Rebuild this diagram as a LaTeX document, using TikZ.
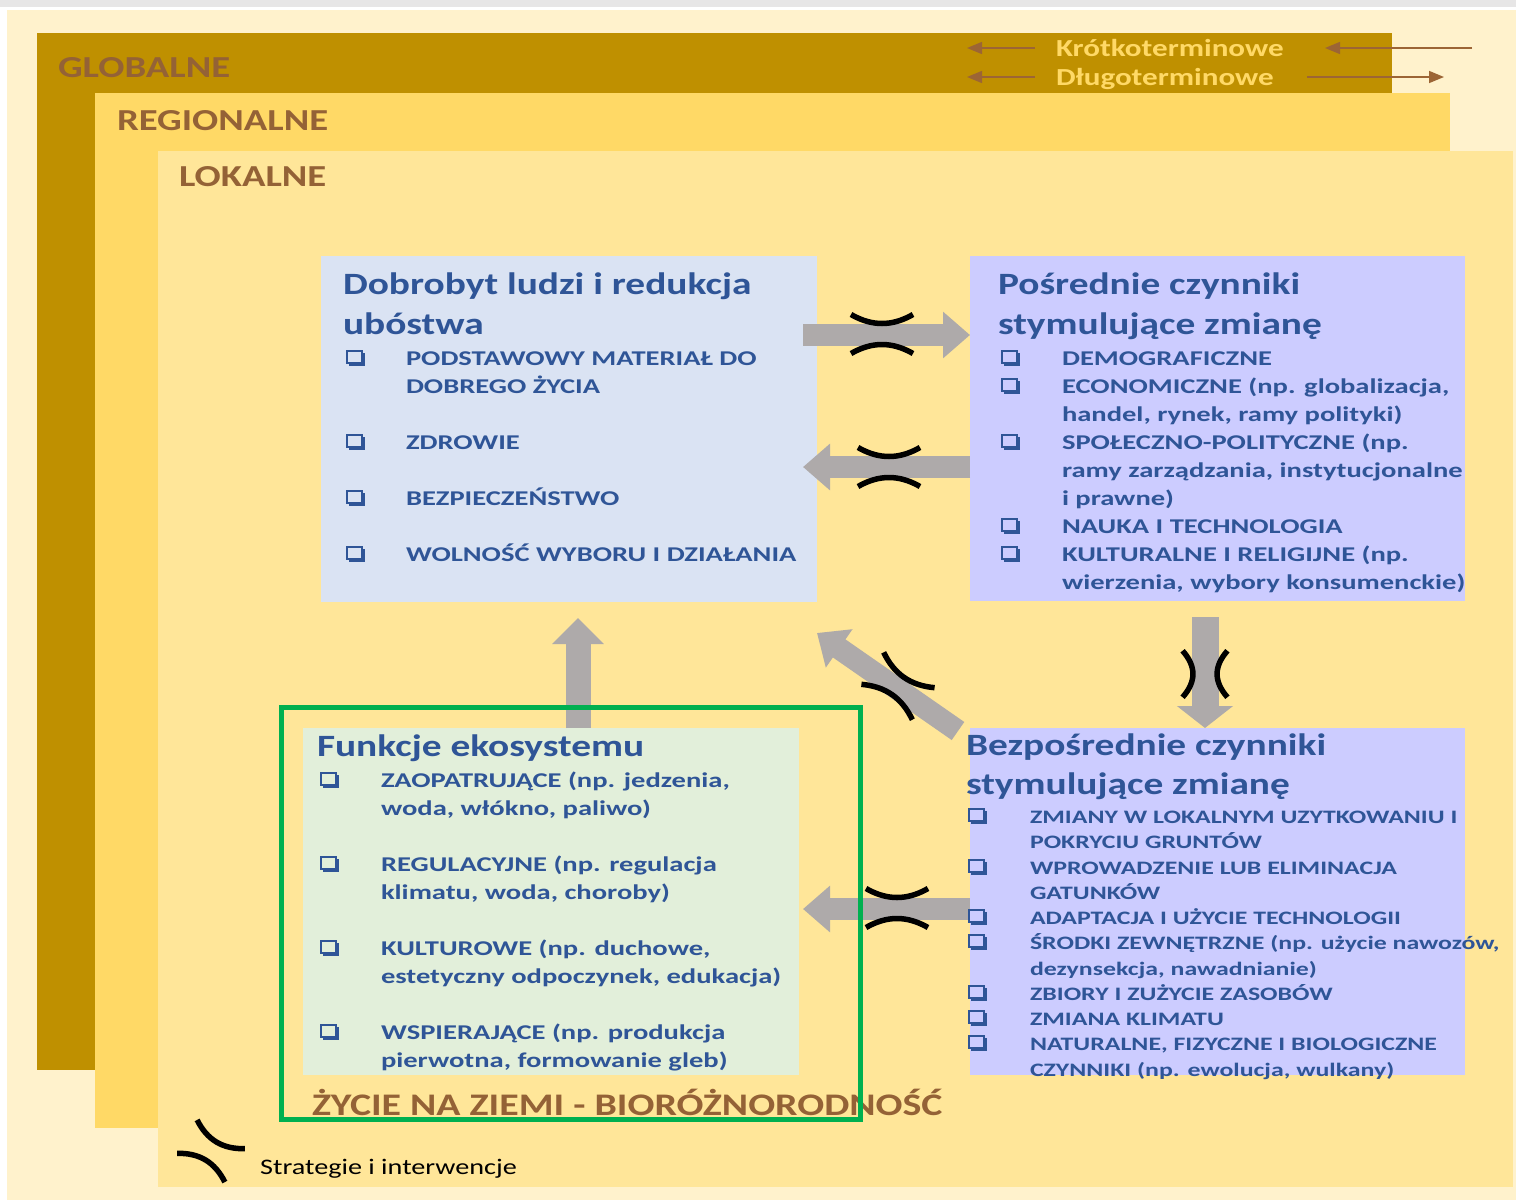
\documentclass[tikz,border=0pt]{standalone}
\usepackage{fontspec}
\setmainfont{Carlito}
\newfontfamily\fhead{Carlito}[FakeStretch=1.27]
\newfontfamily\fitem{Carlito}[FakeStretch=1.36]
\usetikzlibrary{arrows.meta}
\definecolor{cream}{HTML}{FFF2CC}
\definecolor{topgray}{HTML}{E7E6E6}
\definecolor{glob}{HTML}{BF9000}
\definecolor{regio}{HTML}{FFD966}
\definecolor{lokal}{HTML}{FFE699}
\definecolor{lvltxt}{HTML}{946236}
\definecolor{toptxt}{HTML}{FFD966}
\definecolor{toparrow}{HTML}{9C6535}
\definecolor{boxblue}{HTML}{2F5597}
\definecolor{bonecol}{HTML}{DAE3F3}
\definecolor{btwocol}{HTML}{CCCCFF}
\definecolor{bfourcol}{HTML}{E2EFDA}
\definecolor{gframe}{HTML}{00B050}
\definecolor{garrow}{HTML}{AEAAAA}
\newcommand\mytl[4]{\node[#1] (#2) at (#3) {#4};}
\begin{document}
\begin{tikzpicture}[x=1pt,y=-1pt,
 lvl/.style={anchor=base west,inner sep=0pt,outer sep=0pt,text=lvltxt,font=\fhead\bfseries\fontsize{30.5}{30.5}\selectfont},
 toplbl/.style={anchor=base west,inner sep=0pt,outer sep=0pt,text=toptxt,font=\fhead\bfseries\fontsize{24.5}{24.5}\selectfont},
 topar/.style={draw=toparrow,line width=1.5pt,-{Triangle[length=15pt,width=12pt]}},
 panel/.style={anchor=north west,inner sep=0pt,outer sep=0pt,draw=none},
 ttl/.style={anchor=base west,inner sep=0pt,outer sep=0pt,text=boxblue,font=\fhead\bfseries\fontsize{31}{31}\selectfont},
 itm/.style={anchor=base west,inner sep=0pt,outer sep=0pt,text=boxblue,font=\fitem\bfseries\fontsize{21}{21}\selectfont},
 itmb/.style={itm,font=\fitem\bfseries\fontsize{19}{19}\selectfont},
 bigarrow/.style={draw=garrow,line width=22pt,-{Triangle[length=27pt,width=45pt]}},
 chk/.pic={
   \draw[boxblue,line width=1.8pt] (0.9,0.9) rectangle (16,13);
   \fill[boxblue] (2.5,13) rectangle (19,16);
   \fill[boxblue] (16,2.5) rectangle (19,16);
 },
 strat/.pic={
   \draw[black,line width=5.5pt] (-31,-19.5) .. controls (-10,-7.5) and (10,-7.5) .. (31,-19.5);
   \draw[black,line width=5.5pt] (-31,19.5) .. controls (-10,7.5) and (10,7.5) .. (31,19.5);
 }
]
\useasboundingbox (0,0) rectangle (1516,1202);
\fill[white] (0,0) rectangle (1516,1202);
\fill[topgray] (0,0) rectangle (1516,7);
\fill[cream] (7,10) rectangle (1516,1200);
\fill[glob] (37,33) rectangle (1392,1070);
\fill[regio] (95,93) rectangle (1450,1128);
\fill[lokal] (158,151) rectangle (1513,1187);

% level labels
\mytl{lvl}{lglob}{58,77}{GLOBALNE}
\mytl{lvl}{lregio}{117,130}{REGIONALNE}
\mytl{lvl}{llok}{179,186}{LOKALNE}

% time labels
\mytl{toplbl}{kr}{1056,56}{Krótkoterminowe}
\mytl{toplbl}{dl}{1056,85}{Długoterminowe}
\coordinate (kra) at (1035,48); \coordinate (krb) at (967,48);
\coordinate (kr2a) at (1472,48); \coordinate (kr2b) at (1325,48);
\coordinate (dla) at (1035,77); \coordinate (dlb) at (967,77);
\coordinate (dl2a) at (1307,77); \coordinate (dl2b) at (1444,77);
\draw[topar] (kra) -- (krb);
\draw[topar] (kr2a) -- (kr2b);
\draw[topar] (dla) -- (dlb);
\draw[topar] (dl2a) -- (dl2b);

% boxes
\node[panel,fill=bonecol,minimum width=496pt,minimum height=346pt] (b1) at (321,256) {};
\node[panel,fill=btwocol,minimum width=495pt,minimum height=345pt] (b2) at (970,256) {};
\node[panel,fill=btwocol,minimum width=495pt,minimum height=347pt] (b3) at (970,728) {};
\node[panel,fill=bfourcol,minimum width=496pt,minimum height=347pt] (b4) at (303,728) {};

% big arrows
\coordinate (aone) at (803,335);
\draw[bigarrow] (aone) -- (aone -| b2.west);
\coordinate (atwo) at (803,467);
\draw[bigarrow] (atwo -| b2.west) -- (atwo);
\coordinate (athree) at (578,618);
\draw[bigarrow,line width=25pt,-{Triangle[length=26pt,width=50pt]}] (athree |- b4.north) -- (athree);
\coordinate (afours) at (958,731); \coordinate (afoure) at (817,633);
\draw[bigarrow] (afours) -- (afoure);
\coordinate (afive) at (1205,617);
\draw[bigarrow,line width=27pt,-{Triangle[length=22pt,width=55pt]}] (afive) -- (afive |- b3.north);
\coordinate (asix) at (803,909);
\draw[bigarrow] (asix -| b3.west) -- (asix);

% box 1
\mytl{ttl}{t1a}{343,294}{Dobrobyt ludzi i redukcja}
\mytl{ttl}{t1b}{343,334}{ubóstwa}
\pic at (346,350) {chk};
\mytl{itm}{i1a}{406,365}{PODSTAWOWY MATERIAŁ DO}
\mytl{itm}{i1b}{406,393}{DOBREGO ŻYCIA}
\pic at (346,434) {chk};
\mytl{itm}{i1c}{406,449}{ZDROWIE}
\pic at (346,490) {chk};
\mytl{itm}{i1d}{406,505}{BEZPIECZEŃSTWO}
\pic at (346,546) {chk};
\mytl{itm}{i1e}{406,561}{WOLNOŚĆ WYBORU I DZIAŁANIA}

% box 2
\mytl{ttl}{t2a}{998,294}{Pośrednie czynniki}
\mytl{ttl}{t2b}{998,334}{stymulujące zmianę}
\pic at (1001,350) {chk};
\mytl{itm}{i2a}{1062,365}{DEMOGRAFICZNE}
\pic at (1001,378) {chk};
\mytl{itm}{i2b}{1062,393}{ECONOMICZNE (np. globalizacja,}
\mytl{itm}{i2c}{1062,421}{handel, rynek, ramy polityki)}
\pic at (1001,434) {chk};
\mytl{itm}{i2d}{1062,449}{SPOŁECZNO-POLITYCZNE (np.}
\mytl{itm}{i2e}{1062,477}{ramy zarządzania,\ instytucjonalne}
\mytl{itm}{i2f}{1062,505}{i prawne)}
\pic at (1001,518) {chk};
\mytl{itm}{i2g}{1062,533}{NAUKA I TECHNOLOGIA}
\pic at (1001,546) {chk};
\mytl{itm}{i2h}{1062,561}{KULTURALNE I RELIGIJNE (np.}
\mytl{itm}{i2i}{1062,589}{wierzenia, wybory konsumenckie)}

% box 3
\mytl{ttl}{t3a}{966,755}{Bezpośrednie czynniki}
\mytl{ttl}{t3b}{966,794}{stymulujące zmianę}
\pic at (968,808) {chk};
\mytl{itmb}{i3a}{1030,823}{ZMIANY W LOKALNYM UZYTKOWANIU I}
\mytl{itmb}{i3b}{1030,848}{POKRYCIU GRUNTÓW}
\pic at (968,859) {chk};
\mytl{itmb}{i3c}{1030,874}{WPROWADZENIE LUB ELIMINACJA}
\mytl{itmb}{i3d}{1030,899}{GATUNKÓW}
\pic at (968,909) {chk};
\mytl{itmb}{i3e}{1030,924}{ADAPTACJA I UŻYCIE TECHNOLOGII}
\pic at (968,934) {chk};
\mytl{itmb}{i3f}{1030,949}{ŚRODKI ZEWNĘTRZNE (np. użycie nawozów,}
\mytl{itmb}{i3g}{1030,975}{dezynsekcja, nawadnianie)}
\pic at (968,985) {chk};
\mytl{itmb}{i3h}{1030,1000}{ZBIORY I ZUŻYCIE ZASOBÓW}
\pic at (968,1010) {chk};
\mytl{itmb}{i3i}{1030,1025}{ZMIANA KLIMATU}
\pic at (968,1035) {chk};
\mytl{itmb}{i3j}{1030,1050}{NATURALNE, FIZYCZNE I BIOLOGICZNE}
\mytl{itmb}{i3k}{1030,1076}{CZYNNIKI (np. ewolucja, wulkany)}

% box 4
\mytl{ttl}{t4a}{317,756}{Funkcje ekosystemu}
\pic at (320,772) {chk};
\mytl{itm}{i4a}{381,787}{ZAOPATRUJĄCE (np. jedzenia,}
\mytl{itm}{i4b}{381,815}{woda, włókno, paliwo)}
\pic at (320,856) {chk};
\mytl{itm}{i4c}{381,871}{REGULACYJNE (np. regulacja}
\mytl{itm}{i4d}{381,899}{klimatu, woda, choroby)}
\pic at (320,940) {chk};
\mytl{itm}{i4e}{381,955}{KULTUROWE (np. duchowe,}
\mytl{itm}{i4f}{381,983}{estetyczny odpoczynek, edukacja)}
\pic at (320,1024) {chk};
\mytl{itm}{i4g}{381,1039}{WSPIERAJĄCE (np. produkcja}
\mytl{itm}{i4h}{381,1067}{pierwotna, formowanie gleb)}

% bottom texts
\mytl{ttl,text=lvltxt,font=\fhead\bfseries\fontsize{31.4}{31.4}\selectfont}{zyc}{312,1115}{ŻYCIE NA ZIEMI - BIORÓŻNORODNOŚĆ}
\mytl{anchor=base west,inner sep=0pt,text=black,font=\fhead\fontsize{22.2}{22.2}\selectfont}{leg}{260,1174}{Strategie i interwencje}

% strategy symbols
\pic at (882,334) {strat};
\pic at (889,467) {strat};
\pic at (897,908) {strat};
\pic[rotate=90,xscale=0.75,yscale=1.15] at (1205,674) {strat};
\pic[rotate=-34.8] at (898,686) {strat};
\pic[rotate=-31,xscale=0.9,yscale=1.0] at (211,1151) {strat};

% green frame
\node[draw=gframe,line width=5pt,anchor=north west,inner sep=0pt,outer sep=0pt,minimum width=579pt,minimum height=412pt] (gf) at (281,707) {};
\end{tikzpicture}
\end{document}
